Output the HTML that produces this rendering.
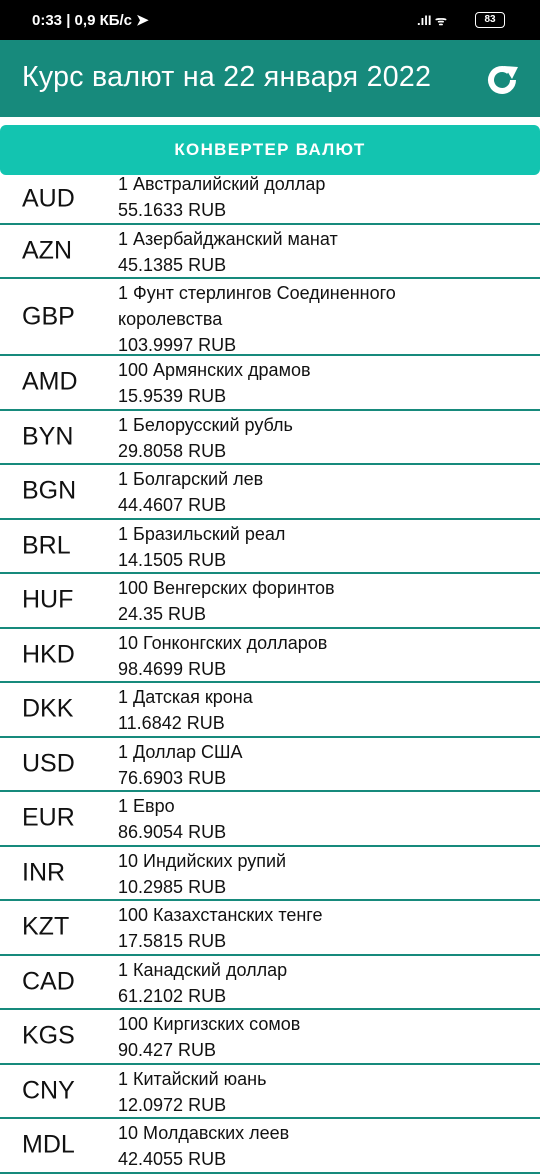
<!DOCTYPE html>
<html><head><meta charset="utf-8"><style>
*{margin:0;padding:0;box-sizing:border-box}
body{width:540px;height:1170px;overflow:hidden;background:#fff;font-family:"Liberation Sans","Noto Sans CJK SC",sans-serif;position:relative}
#status{position:absolute;left:0;top:0;width:540px;height:40px;background:#000;color:#fff;font-size:15px;font-weight:bold}
#header{position:absolute;left:0;top:40px;width:540px;height:77px;background:#178a7c;color:#fff}
#title{position:absolute;left:22px;top:21px;font-size:28.5px;letter-spacing:0.3px}
#btn{position:absolute;left:0;top:125px;width:540px;height:50px;background:#13c4b0;border-radius:6px;color:#fff;text-align:center;line-height:50px;font-size:17px;font-weight:bold;letter-spacing:1.3px}
#list{position:absolute;left:0;top:175px;width:540px}
.row{position:relative;border-bottom:2px solid #178a7c;overflow:hidden}
.code{position:absolute;left:22px;top:50%;transform:translateY(-50%);font-size:25px;color:#111}
.desc{position:absolute;left:118px;top:1px;font-size:18px;line-height:26px;color:#111;width:320px}
</style></head><body>
<div id="status">
<span style="position:absolute;left:32px;top:11px">0:33 | 0,9 КБ/с ➤</span>
<span style="position:absolute;left:417px;top:11px;font-size:13px">.ıll ᯤ</span>
<span style="position:absolute;left:475px;top:12px;width:30px;height:16px;border:1.5px solid #fff;border-radius:4px;font-size:10px;text-align:center;line-height:13px">83</span>
</div>
<div id="header">
<div id="title">Курс валют на 22 января 2022</div>
<svg style="position:absolute;left:484px;top:22px" width="36" height="36" viewBox="0 0 36 36"><path d="M29 18a11 11 0 1 1-4-8.5" fill="none" stroke="#fff" stroke-width="6"/><path d="M20 4l14 1-6 12z" fill="#fff"/></svg>
</div>
<div id="btn">КОНВЕРТЕР ВАЛЮТ</div>
<div id="list"></div>
<script>
const codes=["AUD","AZN","GBP","AMD","BYN","BGN","BRL","HUF","HKD","DKK","USD","EUR","INR","KZT","CAD","KGS","CNY","MDL"];
const names=["1 Австралийский доллар","1 Азербайджанский манат","1 Фунт стерлингов Соединенного королевства","100 Армянских драмов","1 Белорусский рубль","1 Болгарский лев","1 Бразильский реал","100 Венгерских форинтов","10 Гонконгских долларов","1 Датская крона","1 Доллар США","1 Евро","10 Индийских рупий","100 Казахстанских тенге","1 Канадский доллар","100 Киргизских сомов","1 Китайский юань","10 Молдавских леев"];
const rates=["55.1633","45.1385","103.9997","15.9539","29.8058","44.4607","14.1505","24.35","98.4699","11.6842","76.6903","86.9054","10.2985","17.5815","61.2102","90.427","12.0972","42.4055"];
const list=document.getElementById('list');
codes.forEach((c,i)=>{
 const r=document.createElement('div');r.className='row';
 
 
 let h=i===0?49.5:(i===2?77:54.5);
 r.style.height=h+'px';
 const cd=document.createElement('div');cd.className='code';cd.textContent=c;
 
 
 const d=document.createElement('div');d.className='desc';
 
 
 if(i===0)d.style.top='-4px';
 d.innerHTML=names[i]+'<br>'+rates[i]+' RUB';
 r.appendChild(cd);r.appendChild(d);list.appendChild(r);
});
</script>
</body></html>
